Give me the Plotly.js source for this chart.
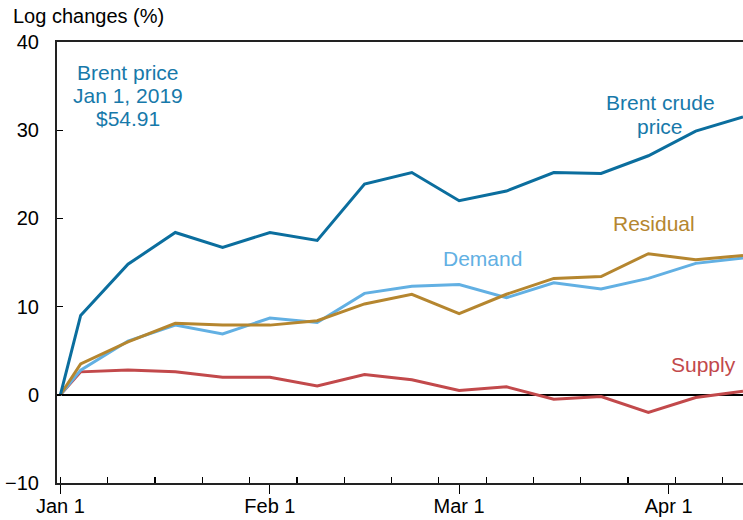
<!DOCTYPE html>
<html>
<head>
<meta charset="utf-8">
<script src="https://cdn.plot.ly/plotly-3.0.1.min.js"></script>
<style>html,body{margin:0;padding:0;background:#fff;}#chart{width:743px;height:520px;}</style>
</head>
<body>
<div id="chart"></div>
<script>
const dates = ['2019-01-01','2019-01-04','2019-01-11','2019-01-18','2019-01-25','2019-02-01','2019-02-08','2019-02-15','2019-02-22','2019-03-01','2019-03-08','2019-03-15','2019-03-22','2019-03-29','2019-04-05','2019-04-12'];
const brent    = [0, 9.0, 14.8, 18.4, 16.7, 18.4, 17.5, 23.9, 25.2, 22.0, 23.1, 25.2, 25.1, 27.1, 29.9, 31.5];
const demand   = [0, 2.8, 6.1, 7.9, 6.9, 8.7, 8.2, 11.5, 12.3, 12.5, 11.0, 12.7, 12.0, 13.2, 14.9, 15.5];
const residual = [0, 3.5, 6.0, 8.1, 7.9, 7.9, 8.4, 10.3, 11.4, 9.2, 11.4, 13.2, 13.4, 16.0, 15.3, 15.8];
const supply   = [0, 2.6, 2.8, 2.6, 2.0, 2.0, 1.0, 2.3, 1.7, 0.5, 0.9, -0.5, -0.2, -2.0, -0.3, 0.4];
const monthTicks = ['2019-01-01','2019-02-01','2019-03-01','2019-04-01'];
const monthLabels = ['Jan 1','Feb 1','Mar 1','Apr 1'];
const yTicks = [-10, 0, 10, 20, 30, 40];

const C = {brent:'#0b6e9e', demand:'#62b0e3', residual:'#b5862f', supply:'#c2494b', note:'#1779aa'};
function tr(y, c){ return {x: dates, y: y, type:'scatter', mode:'lines', line:{color:c, width:3}, hoverinfo:'skip', showlegend:false}; }
const data = [tr(supply, C.supply), tr(demand, C.demand), tr(residual, C.residual), tr(brent, C.brent)];
const F = 'Liberation Sans, Arial, sans-serif';
const ann = (x, y, text, color) => ({x: x, y: y, xref:'x', yref:'y', text: text, showarrow:false, font:{family:F, size:21, color: color}, align:'center', xanchor:'center', yanchor:'middle'});
const layout = {
  width: 743, height: 520,
  margin: {l: 57, r: 0, t: 42, b: 37},
  paper_bgcolor:'#fff', plot_bgcolor:'#fff',
  font: {family: F, size: 20, color:'#000'},
  xaxis: {
    type:'date', range:['2018-12-31 12:00','2019-04-12'],
    tickvals: monthTicks, ticktext: monthLabels,
    ticks:'outside', ticklen: 9, tickwidth: 1.2, tickcolor:'#000',
    showline:true, linecolor:'#222', linewidth: 2, mirror: true,
    showgrid:false, zeroline:false,
    ticklabelstandoff: -5,
    tickfont:{family:F, size:20, color:'#000'},
    minor: {ticks:'inside', ticklen: 6, tickwidth:1.2, tickcolor:'#000', dtick: 7*86400000, tick0:'2019-01-01', showgrid:false}
  },
  yaxis: {
    range:[-10, 40], tickvals: yTicks,
    ticks:'inside', ticklen: 6, tickwidth:1.2, tickcolor:'#000',
    showline:true, linecolor:'#222', linewidth: 2,
    showgrid:false, zeroline:true, zerolinecolor:'#000', zerolinewidth: 1.8,
    ticklabelstandoff: 12,
    tickfont:{family:F, size:20, color:'#000'}
  },
  annotations: [
    {x: 0, y: 1, xref:'paper', yref:'paper', xanchor:'left', yanchor:'bottom', xshift:-46, yshift:13, text:'Log changes (%)', showarrow:false, font:{family:F, size:20, color:'#000'}},
    ann('2019-01-11 00:00', 36.56, 'Brent price', C.note),
    ann('2019-01-11 00:00', 33.96, 'Jan 1, 2019', C.note),
    ann('2019-01-11 00:00', 31.29, '$54.91', C.note),
    ann('2019-03-30 19:00', 33.1, 'Brent crude', C.note),
    ann('2019-03-30 19:00', 30.4, 'price', C.note),
    ann('2019-03-29 21:30', 19.44, 'Residual', C.residual),
    ann('2019-03-04 10:00', 15.4, 'Demand', C.demand),
    ann('2019-04-06 05:00', 3.4, 'Supply', C.supply)
  ]
};
Plotly.newPlot('chart', data, layout, {displayModeBar:false, staticPlot:true});
</script>
</body>
</html>
